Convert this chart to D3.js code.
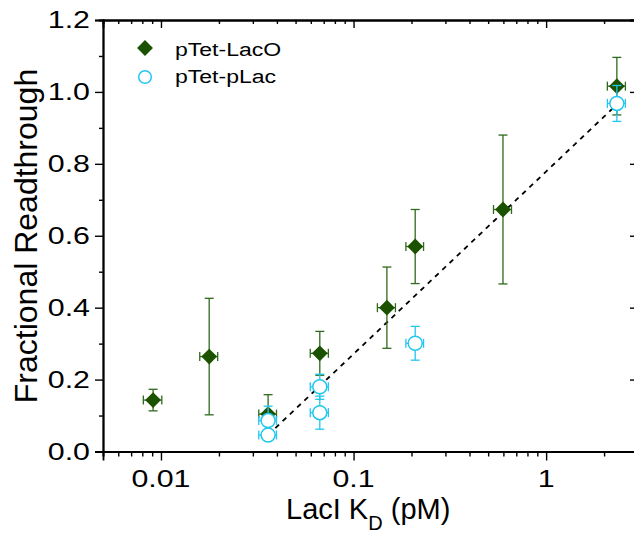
<!DOCTYPE html>
<html>
<head>
<meta charset="utf-8">
<script src="https://cdn.jsdelivr.net/npm/d3@7"></script>
<style>
  html, body { margin: 0; padding: 0; background: #fff; }
  svg { display: block; font-family: Arial, "Liberation Sans", sans-serif; }
</style>
</head>
<body>
<svg id="chart" width="634" height="533"></svg>
<script>
// ---- data ----
const seriesNames = ["pTet-LacO", "pTet-pLac"];
const lacOX    = [0.0091, 0.0178, 0.036, 0.0668, 0.149, 0.209, 0.597, 2.33];
const lacOY    = [0.143, 0.264, 0.104, 0.273, 0.400, 0.570, 0.673, 1.016];
const lacOYErr = [0.030, 0.162, 0.054, 0.061, 0.113, 0.103, 0.207, 0.080];
const lacOXErr = [0.0010, 0.0019, 0.0038, 0.0072, 0.016, 0.022, 0.064, 0.25];

const pLacX    = [0.036, 0.036, 0.0668, 0.0668, 0.209, 2.33];
const pLacY    = [0.086, 0.046, 0.180, 0.108, 0.301, 0.968];
const pLacYErr = [0.040, 0.012, 0.035, 0.046, 0.047, 0.050];
const pLacXErr = [0.0038, 0.0038, 0.0072, 0.0072, 0.022, 0.25];

const fitX = [0.036, 2.33];
const fitY = [0.046, 0.965];

const xTickLabels = [0.01, 0.1, 1];
const xMinorTicks = [0.005,0.006,0.007,0.008,0.009,0.02,0.03,0.04,0.05,0.06,0.07,0.08,0.09,0.2,0.3,0.4,0.5,0.6,0.7,0.8,0.9,2,3];
const yTickLabels = [0, 0.2, 0.4, 0.6, 0.8, 1.0, 1.2];
const yMinorTicks = [0.1, 0.3, 0.5, 0.7, 0.9, 1.1];

// ---- layout ----
const green = "#1b5200", greenErr = "#2f6a1c", cyan = "#22c6f0";
const svg = d3.select("#chart");
const x = d3.scaleLog().domain([0.005, 3]).range([103, 638]);
const y = d3.scaleLinear().domain([0, 1.2]).range([451.5, 20]);

const axisStyle = g => {
  g.select(".domain").attr("stroke", "#000").attr("stroke-width", 1.8);
  g.selectAll(".tick line").attr("stroke", "#000").attr("stroke-width", 1.4);
};
function ticks(axisFn, scale, vals, size, tr) {
  svg.append("g").attr("transform", tr)
    .call(axisFn(scale).tickValues(vals).tickSize(size).tickFormat(""))
    .call(axisStyle);
}
// bottom (outward)
ticks(d3.axisBottom, x, xMinorTicks, 5, "translate(0,451.5)");
ticks(d3.axisBottom, x, xTickLabels, 9, "translate(0,451.5)");
// top (inward)
ticks(d3.axisBottom, x, xMinorTicks, 4, "translate(0,20)");
ticks(d3.axisBottom, x, xTickLabels, 8, "translate(0,20)");
// left (outward)
ticks(d3.axisLeft, y, yMinorTicks, 4, "translate(103,0)");
ticks(d3.axisLeft, y, yTickLabels, 8, "translate(103,0)");
// right (inward)
ticks(d3.axisLeft, y, yMinorTicks, 4, "translate(638,0)");
ticks(d3.axisLeft, y, yTickLabels, 8, "translate(638,0)");

// tick labels (rendered wide like the reference)
const sx = 1.32;
svg.append("g").selectAll("text").data(xTickLabels).join("text")
  .attr("transform", d => `translate(${x(d)},487) scale(${sx},1)`)
  .attr("text-anchor", "middle").attr("font-size", 23).attr("fill", "#000")
  .text(d => String(d));
svg.append("g").selectAll("text").data(yTickLabels).join("text")
  .attr("transform", d => `translate(90,${y(d) + 8.2}) scale(${sx},1)`)
  .attr("text-anchor", "end").attr("font-size", 23).attr("fill", "#000")
  .text(d => d3.format(".1f")(d));

// axis titles
svg.append("text")
  .attr("transform", "translate(37,236) rotate(-90)")
  .attr("text-anchor", "middle").attr("font-size", 32).attr("fill", "#000")
  .text("Fractional Readthrough");
const xt = svg.append("text").attr("x", 286).attr("y", 518.5).attr("font-size", 29).attr("fill", "#000");
xt.append("tspan").text("LacI K");
xt.append("tspan").attr("font-size", 20).attr("dy", 11).text("D");
xt.append("tspan").attr("dy", -11).text(" (pM)");

// fit line
svg.append("line")
  .attr("x1", x(fitX[0])).attr("y1", y(fitY[0]))
  .attr("x2", x(fitX[1])).attr("y2", y(fitY[1]))
  .attr("stroke", "#000").attr("stroke-width", 1.8).attr("stroke-dasharray", "5,5");

// error bars
function errorBars(xs, ys, yErr, xErr, color) {
  const g = svg.append("g").attr("stroke", color).attr("stroke-width", 1.3).attr("fill", "none");
  xs.forEach((xv, i) => {
    const cx = x(xv), cy = y(ys[i]);
    const yt = y(ys[i] + yErr[i]), yb = y(ys[i] - yErr[i]);
    g.append("line").attr("x1", cx).attr("x2", cx).attr("y1", yt).attr("y2", yb);
    g.append("line").attr("x1", cx - 4.5).attr("x2", cx + 4.5).attr("y1", yt).attr("y2", yt);
    g.append("line").attr("x1", cx - 4.5).attr("x2", cx + 4.5).attr("y1", yb).attr("y2", yb);
    const xl = x(xv - xErr[i]), xr = x(xv + xErr[i]);
    g.append("line").attr("x1", xl).attr("x2", xr).attr("y1", cy).attr("y2", cy);
    g.append("line").attr("x1", xl).attr("x2", xl).attr("y1", cy - 4.5).attr("y2", cy + 4.5);
    g.append("line").attr("x1", xr).attr("x2", xr).attr("y1", cy - 4.5).attr("y2", cy + 4.5);
  });
}

const diamond = d3.symbol().type(d3.symbolDiamond2).size(160);
// green series
errorBars(lacOX, lacOY, lacOYErr, lacOXErr, greenErr);
svg.append("g").selectAll("path").data(lacOX).join("path")
  .attr("d", diamond)
  .attr("transform", (d, i) => `translate(${x(d)},${y(lacOY[i])})`)
  .attr("fill", green);

// cyan series
errorBars(pLacX, pLacY, pLacYErr, pLacXErr, cyan);
svg.append("g").selectAll("circle").data(pLacX).join("circle")
  .attr("cx", d => x(d)).attr("cy", (d, i) => y(pLacY[i])).attr("r", 7)
  .attr("fill", "#fff").attr("stroke", cyan).attr("stroke-width", 1.5);

// legend
const lg = svg.append("g");
lg.append("path").attr("d", diamond).attr("transform", "translate(145,48)").attr("fill", green);
lg.append("circle").attr("cx", 145).attr("cy", 77).attr("r", 6.3).attr("fill", "#fff").attr("stroke", cyan).attr("stroke-width", 1.5);
lg.append("text").attr("transform", "translate(175,56) scale(1.28,1)").attr("font-size", 18).attr("fill", "#000").text(seriesNames[0]);
lg.append("text").attr("transform", "translate(175,83) scale(1.28,1)").attr("font-size", 18).attr("fill", "#000").text(seriesNames[1]);
</script>
</body>
</html>
